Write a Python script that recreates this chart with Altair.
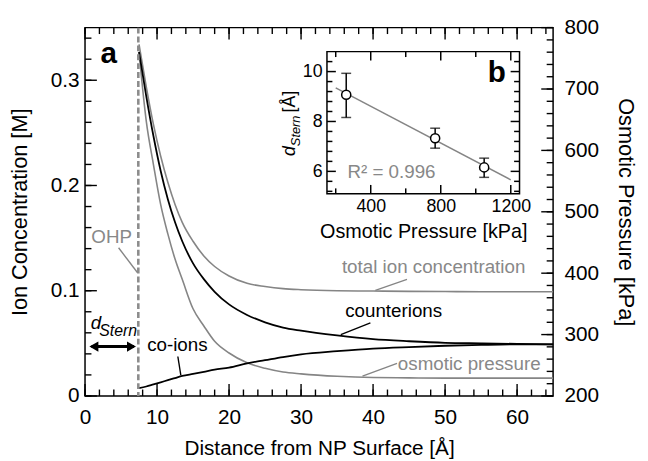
import altair as alt
import pandas as pd

# ---------------- data ----------------
dist = [7.5, 8.5, 9.5, 10.5, 11.5, 12.5, 13.5, 15, 16.5, 18, 20, 22.5, 25, 27.5, 30,
        35, 40, 45, 50, 55, 60, 65]
total_ion = [0.334, 0.294, 0.258, 0.228, 0.203, 0.182, 0.165, 0.147, 0.133, 0.123, 0.114,
             0.107, 0.104, 0.102, 0.101, 0.100, 0.0997, 0.0994, 0.0992, 0.099, 0.099, 0.099]
counterions = [0.327, 0.285, 0.247, 0.214, 0.187, 0.165, 0.147, 0.126, 0.111, 0.099, 0.087,
               0.077, 0.070, 0.065, 0.062, 0.0575, 0.054, 0.052, 0.0505, 0.050, 0.0495, 0.049]
coions = [0.0075, 0.009, 0.011, 0.013, 0.015, 0.017, 0.019, 0.021, 0.023, 0.025, 0.027,
          0.031, 0.034, 0.037, 0.0395, 0.0425, 0.045, 0.0465, 0.0477, 0.0485, 0.049, 0.049]
osmotic_kpa = [760, 648, 577, 512, 464, 423, 390, 342, 314, 289, 270, 254, 245, 239, 236,
               232, 230, 229.5, 229, 229, 229, 229]
ohp_distance = 7.4

inset_pressure = [260, 768, 1048]
inset_dstern = [9.07, 7.33, 6.16]
inset_low = [8.16, 6.93, 5.76]
inset_high = [9.93, 7.73, 6.53]
fit_pressure = [200, 1200]
fit_dstern = [9.35, 5.66]

main_x_major = [0, 10, 20, 30, 40, 50, 60]
main_x_minor = list(range(0, 66, 2))
main_y_major = [0, 0.1, 0.2, 0.3]
main_y_minor = [round(0.02 * i, 2) for i in range(18)]
press_major = [200, 300, 400, 500, 600, 700, 800]
press_minor = list(range(200, 801, 20))
inset_x_major = [400, 800, 1200]
inset_x_minor = [200, 600, 1000]
inset_y_major = [6, 8, 10]
inset_y_minor = [5.2, 5.6, 6.4, 6.8, 7.2, 7.6, 8.4, 8.8, 9.2, 9.6, 10.4]

# ---------------- layout / style ----------------
W, H = 474, 373
FONT = "Liberation Sans"
GRAY = "#858585"
TGRAY = "#888888"

X_DOM, Y_DOM, P_DOM = [0, 65], [0, 0.35], [200, 800]
IX_DOM, IY_DOM = [150, 1250], [5.1, 10.8]
IX_RANGE, IY_RANGE = [245, 440], [168.3, 24.3]

xs = alt.Scale(domain=X_DOM, nice=False, zero=False)
ys = alt.Scale(domain=Y_DOM, nice=False, zero=False)
ps = alt.Scale(domain=P_DOM, nice=False, zero=False)
ixs = alt.Scale(domain=IX_DOM, range=IX_RANGE, nice=False, zero=False)
iys = alt.Scale(domain=IY_DOM, range=IY_RANGE, nice=False, zero=False)

# data units per pixel (for tick lengths)
KX = (X_DOM[1] - X_DOM[0]) / W
KY = (Y_DOM[1] - Y_DOM[0]) / H
IKX = (IX_DOM[1] - IX_DOM[0]) / (IX_RANGE[1] - IX_RANGE[0])
IKY = (IY_DOM[1] - IY_DOM[0]) / (IY_RANGE[0] - IY_RANGE[1])


def press_to_conc(p):
    """The right axis (kPa) and left axis (M) share the plot height linearly."""
    return Y_DOM[0] + (p - P_DOM[0]) / (P_DOM[1] - P_DOM[0]) * (Y_DOM[1] - Y_DOM[0])


def label_axis(channel, values, scale, orient, offset, **kw):
    props = dict(orient=orient, values=values, ticks=False, offset=offset,
                 domain=False, grid=False, labelFlush=False,
                 labelOverlap=False, labelColor="black", labelFont=FONT,
                 titleFont=FONT, titleFontWeight="normal", titleColor="black")
    props.update(kw)
    ax = alt.Axis(**props)
    df = pd.DataFrame({"lv": values})
    if channel == "x":
        enc = {"x": alt.X("lv:Q", scale=scale, axis=ax)}
    else:
        enc = {"y": alt.Y("lv:Q", scale=scale, axis=ax)}
    return alt.Chart(df).mark_point(opacity=0).encode(**enc)


layers = []

# ----- main curves -----
def curve(values, scale, color, width):
    df = pd.DataFrame({"d": dist, "v": values})
    return alt.Chart(df).mark_line(color=color, strokeWidth=width,
                                   interpolate="monotone").encode(
        x=alt.X("d:Q", scale=xs, axis=None),
        y=alt.Y("v:Q", scale=scale, axis=None))

layers.append(curve(total_ion, ys, GRAY, 1.6))
layers.append(curve(osmotic_kpa, ps, GRAY, 1.6))
layers.append(curve(counterions, ys, "black", 1.8))
layers.append(curve(coions, ys, "black", 1.8))

# OHP dashed line
layers.append(alt.Chart(pd.DataFrame({"x": [ohp_distance]})).mark_rule(
    color="#8c8c8c", strokeWidth=2.6, strokeDash=[6, 3]).encode(
    x=alt.X("x:Q", scale=xs, axis=None)))

# ----- segments of the main panel: leader lines + inward tick marks -----
seg = {"x": [], "x2": [], "y": [], "y2": [], "c": []}

def add_seg(x, x2, y, y2, c="black"):
    seg["x"].append(x); seg["x2"].append(x2)
    seg["y"].append(y); seg["y2"].append(y2); seg["c"].append(c)

# leader lines
for x, x2, y, y2, c in [(4.66, 7.27, 0.1408, 0.1173, GRAY),
                        (44.71, 40.32, 0.1107, 0.1004, GRAY),
                        (39.63, 35.52, 0.0694, 0.0582, "black"),
                        (12.89, 13.30, 0.0375, 0.0197, "black"),
                        (43.33, 38.53, 0.0310, 0.0188, GRAY)]:
    add_seg(x, x2, y, y2, c)
# bottom / top ticks
for vals, ln in [(main_x_major, 12), (main_x_minor, 6.5)]:
    for v in vals:
        add_seg(v, v, Y_DOM[0], Y_DOM[0] + ln * KY)
        add_seg(v, v, Y_DOM[1], Y_DOM[1] - ln * KY)
# left ticks (ion concentration)
for vals, ln in [(main_y_major, 12), (main_y_minor, 6.5)]:
    for v in vals:
        add_seg(X_DOM[0], X_DOM[0] + ln * KX, v, v)
# right ticks (osmotic pressure)
for vals, ln in [(press_major, 12), (press_minor, 6.5)]:
    for v in vals:
        yv = press_to_conc(v)
        add_seg(X_DOM[1], X_DOM[1] - ln * KX, yv, yv)

layers.append(alt.Chart(pd.DataFrame(seg)).mark_rule(strokeWidth=1.4).encode(
    x=alt.X("x:Q", scale=xs, axis=None), x2="x2:Q",
    y=alt.Y("y:Q", scale=ys, axis=None), y2="y2:Q",
    color=alt.Color("c:N", scale=None)))

# text labels in main panel
labels_gray = pd.DataFrame({
    "t": ["OHP", "total ion concentration", "osmotic pressure"],
    "x": [3.70, 48.41, 53.35], "y": [0.1511, 0.1220, 0.0300]})
labels_black = pd.DataFrame({
    "t": ["counterions", "co-ions"], "x": [42.86, 12.82], "y": [0.0807, 0.0479]})
layers.append(alt.Chart(labels_gray).mark_text(fontSize=19, color=TGRAY, baseline="middle").encode(
    x=alt.X("x:Q", scale=xs, axis=None), y=alt.Y("y:Q", scale=ys, axis=None), text="t:N"))
layers.append(alt.Chart(labels_black).mark_text(fontSize=19, color="black", baseline="middle").encode(
    x=alt.X("x:Q", scale=xs, axis=None), y=alt.Y("y:Q", scale=ys, axis=None), text="t:N"))

layers.append(alt.Chart(pd.DataFrame({"t": ["a"], "x": [3.29], "y": [0.3247]})).mark_text(
    fontSize=30, fontWeight="bold", color="black", baseline="middle").encode(
    x=alt.X("x:Q", scale=xs, axis=None), y=alt.Y("y:Q", scale=ys, axis=None), text="t:N"))

layers.append(alt.Chart(pd.DataFrame({"t": ["d"], "x": [0.78], "y": [0.0638]})).mark_text(
    fontSize=19, fontStyle="italic", align="left", baseline="alphabetic", color="black").encode(
    x=alt.X("x:Q", scale=xs, axis=None), y=alt.Y("y:Q", scale=ys, axis=None), text="t:N"))
layers.append(alt.Chart(pd.DataFrame({"t": ["Stern"], "x": [1.98], "y": [0.0570]})).mark_text(
    fontSize=16, fontStyle="italic", align="left", baseline="alphabetic", color="black").encode(
    x=alt.X("x:Q", scale=xs, axis=None), y=alt.Y("y:Q", scale=ys, axis=None), text="t:N"))

arrow_line = pd.DataFrame({"x": [0.9], "x2": [6.8], "y": [0.0469]})
layers.append(alt.Chart(arrow_line).mark_rule(color="black", strokeWidth=3).encode(
    x=alt.X("x:Q", scale=xs, axis=None), x2="x2:Q", y=alt.Y("y:Q", scale=ys, axis=None)))
heads = pd.DataFrame({"x": [1.23, 6.45], "y": [0.0469, 0.0469],
                      "s": ["triangle-left", "triangle-right"]})
layers.append(alt.Chart(heads).mark_point(filled=True, color="black", size=110, opacity=1).encode(
    x=alt.X("x:Q", scale=xs, axis=None), y=alt.Y("y:Q", scale=ys, axis=None),
    shape=alt.Shape("s:N", scale=None)))

# ----- inset -----
frame = pd.DataFrame({"x": [IX_DOM[0]], "x2": [IX_DOM[1]], "y": [IY_DOM[0]], "y2": [IY_DOM[1]]})
layers.append(alt.Chart(frame).mark_rect(fill="white", stroke="black", strokeWidth=1.5).encode(
    x=alt.X("x:Q", scale=ixs, axis=None), x2="x2:Q",
    y=alt.Y("y:Q", scale=iys, axis=None), y2="y2:Q"))

fit_df = pd.DataFrame({"p": fit_pressure, "d": fit_dstern})
layers.append(alt.Chart(fit_df).mark_line(color=GRAY, strokeWidth=1.5).encode(
    x=alt.X("p:Q", scale=ixs, axis=None), y=alt.Y("d:Q", scale=iys, axis=None)))

# inset segments: error bars + inward tick marks
iseg = {"p": [], "p2": [], "lo": [], "hi": []}

def add_iseg(p, p2, lo, hi):
    iseg["p"].append(p); iseg["p2"].append(p2)
    iseg["lo"].append(lo); iseg["hi"].append(hi)

for p, lo, hi in zip(inset_pressure, inset_low, inset_high):
    add_iseg(p, p, lo, hi)
for vals, ln in [(inset_x_major, 9), (inset_x_minor, 5.5)]:
    for v in vals:
        add_iseg(v, v, IY_DOM[0], IY_DOM[0] + ln * IKY)
        add_iseg(v, v, IY_DOM[1], IY_DOM[1] - ln * IKY)
for vals, ln in [(inset_y_major, 9), (inset_y_minor, 5.5)]:
    for v in vals:
        add_iseg(IX_DOM[0], IX_DOM[0] + ln * IKX, v, v)
        add_iseg(IX_DOM[1], IX_DOM[1] - ln * IKX, v, v)

layers.append(alt.Chart(pd.DataFrame(iseg)).mark_rule(color="black", strokeWidth=1.5).encode(
    x=alt.X("p:Q", scale=ixs, axis=None), x2="p2:Q",
    y=alt.Y("lo:Q", scale=iys, axis=None), y2="hi:Q"))

pts = pd.DataFrame({"p": inset_pressure, "d": inset_dstern, "lo": inset_low, "hi": inset_high})
layers.append(alt.Chart(pts).mark_tick(orient="horizontal", size=10, thickness=1.5, color="black").encode(
    x=alt.X("p:Q", scale=ixs, axis=None), y=alt.Y("lo:Q", scale=iys, axis=None)))
layers.append(alt.Chart(pts).mark_tick(orient="horizontal", size=10, thickness=1.5, color="black").encode(
    x=alt.X("p:Q", scale=ixs, axis=None), y=alt.Y("hi:Q", scale=iys, axis=None)))
layers.append(alt.Chart(pts).mark_point(shape="circle", filled=True, fill="white", stroke="black",
                                        strokeWidth=1.5, size=85, opacity=1).encode(
    x=alt.X("p:Q", scale=ixs, axis=None), y=alt.Y("d:Q", scale=iys, axis=None)))

layers.append(alt.Chart(pd.DataFrame({"t": ["b"], "x": [1120], "y": [9.94]})).mark_text(
    fontSize=30, fontWeight="bold", color="black", baseline="middle").encode(
    x=alt.X("x:Q", scale=ixs, axis=None), y=alt.Y("y:Q", scale=iys, axis=None), text="t:N"))
layers.append(alt.Chart(pd.DataFrame({"t": ["R² = 0.996"], "x": [267], "y": [5.99]})).mark_text(
    fontSize=19, color=TGRAY, align="left", baseline="middle").encode(
    x=alt.X("x:Q", scale=ixs, axis=None), y=alt.Y("y:Q", scale=iys, axis=None), text="t:N"))

ytitle = [("d", -30.5, 6.62, 18, "italic"), ("Stern", -2.3, 7.01, 13, "italic"),
          ("[Å]", -30.5, 8.36, 18, "normal")]
for t, x, y, fs, st in ytitle:
    layers.append(alt.Chart(pd.DataFrame({"t": [t], "x": [x], "y": [y]})).mark_text(
        fontSize=fs, fontStyle=st, angle=270, align="left", baseline="alphabetic",
        color="black").encode(
        x=alt.X("x:Q", scale=ixs, axis=None), y=alt.Y("y:Q", scale=iys, axis=None), text="t:N"))

# ----- axis labels and titles -----
layers.append(label_axis("x", main_x_major, xs, "bottom", 0, labels=True,
                         labelFontSize=21, labelPadding=11, format="d",
                         title="Distance from NP Surface [Å]", titleFontSize=21,
                         titlePadding=10))
layers.append(label_axis("y", main_y_major, ys, "left", 0, labels=True,
                         labelFontSize=21, labelPadding=6, format="~g",
                         title="Ion Concentration [M]", titleFontSize=22,
                         titlePadding=19))
layers.append(label_axis("y", press_major, ps, "right", 0, labels=True,
                         labelFontSize=21, labelPadding=11, format="d",
                         title="Osmotic Pressure [kPa]", titleFontSize=22,
                         titlePadding=15))
layers.append(label_axis("x", inset_x_major, ixs, "bottom", IY_RANGE[0] - H, labels=True,
                         labelFontSize=18, labelPadding=4, format="d",
                         title="Osmotic Pressure [kPa]", titleFontSize=20,
                         titlePadding=6))
layers.append(label_axis("y", inset_y_major, iys, "left", -IX_RANGE[0], labels=True,
                         labelFontSize=18, labelPadding=5, format="d", title=" "))

chart = alt.layer(*layers).resolve_scale(
    x="independent", y="independent").resolve_axis(
    x="independent", y="independent").properties(
    width=W, height=H,
    padding={"left": 78, "top": 17, "right": 88, "bottom": 64},
    autosize=alt.AutoSizeParams(type="none"),
).configure(font=FONT).configure_view(stroke="black", strokeWidth=1.5)

chart.save("out.html", embed_options={"renderer": "svg", "actions": False})
